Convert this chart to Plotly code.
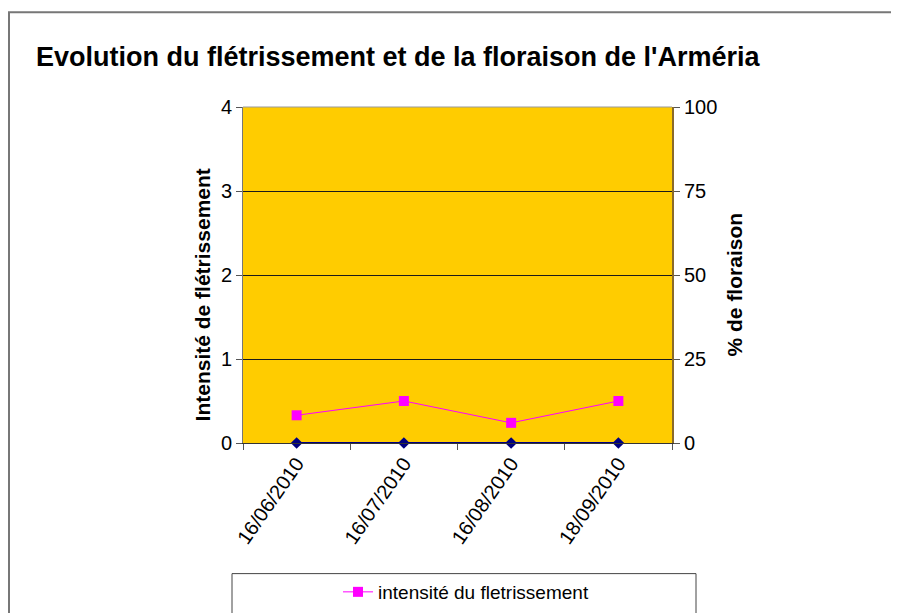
import plotly.graph_objects as go

dates = ["16/06/2010", "16/07/2010", "16/08/2010", "18/09/2010"]
intensite = [0.33, 0.5, 0.24, 0.5]
floraison = [0, 0, 0, 0]
y_left_ticks = [0, 1, 2, 3, 4]
y_right_ticks = [0, 25, 50, 75, 100]

W, H = 899, 613
OFF = 8  # page body margin
L, R, T, B = 243 - OFF, 672 - OFF, 107 - OFF, 444 - OFF
pw, ph = R - L, B - T

def px(x):
    return (x - OFF - L) / pw

def py(y):
    return (B - (y - OFF)) / ph

FONT = "Liberation Sans, Arial, sans-serif"

fig = go.Figure()
fig.add_trace(go.Scatter(
    x=dates, y=floraison, yaxis="y2", mode="lines+markers",
    line=dict(color="#000080", width=2),
    marker=dict(symbol="diamond", size=9, color="#000080"),
    showlegend=False, cliponaxis=False,
))
fig.add_trace(go.Scatter(
    x=dates, y=intensite, mode="lines+markers",
    name="intensité du fletrissement",
    line=dict(color="#FF00FF", width=1),
    marker=dict(symbol="square", size=10, color="#FF00FF"),
))

fig.update_layout(
    width=W, height=H,
    margin=dict(l=L, r=W - R, t=T, b=H - B),
    paper_bgcolor="white", plot_bgcolor="#FFCC00",
    font=dict(family=FONT, size=16, color="black"),
    title=dict(text="<b>Evolution du flétrissement et de la floraison de l'Arméria</b>",
               x=(36 - OFF) / W, xref="container", xanchor="left",
               y=1 - (57 - OFF) / H, yref="container", yanchor="middle",
               font=dict(size=27, family=FONT, color="black")),
    xaxis=dict(type="category", tickangle=-55, tickson="boundaries",
               ticks="outside", ticklen=6, tickcolor="#555",
               showline=True, linecolor="#333", linewidth=1,
               showgrid=False, tickfont=dict(size=20), range=[-0.5, 3.5]),
    yaxis=dict(range=[0, 4], tickvals=y_left_ticks, ticks="outside", ticklen=6,
               tickcolor="#555", showline=True, linecolor="#777", mirror=False,
               showgrid=True, gridcolor="#1a1a1a", gridwidth=1, zeroline=False,
               tickfont=dict(size=20)),
    yaxis2=dict(range=[0, 100], tickvals=y_right_ticks, overlaying="y", side="right",
                ticks="outside", ticklen=6, tickcolor="#555", showline=True,
                linecolor="#8a6a2a", linewidth=2, showgrid=False, zeroline=False,
                tickfont=dict(size=20)),
    legend=dict(x=px(466), y=py(592), xanchor="center", yanchor="middle",
                bgcolor="rgba(0,0,0,0)", font=dict(size=19)),
    annotations=[
        dict(text="<b>Intensité de flétrissement</b>", textangle=-90,
             xref="paper", yref="paper", x=px(202), y=py(296),
             xanchor="center", yanchor="middle", showarrow=False,
             font=dict(size=21)),
        dict(text="<b>% de floraison</b>", textangle=-90,
             xref="paper", yref="paper", x=px(734), y=py(285),
             xanchor="center", yanchor="middle", showarrow=False,
             font=dict(size=21)),
    ],
    shapes=[
        dict(type="rect", xref="paper", yref="paper",
             x0=px(9), x1=px(915), y0=py(630), y1=py(12),
             line=dict(color="#777", width=2), layer="below"),
        dict(type="rect", xref="paper", yref="paper",
             x0=px(232), x1=px(696), y0=py(635), y1=py(575),
             line=dict(color="#444", width=1), layer="below"),
        dict(type="line", xref="paper", yref="paper",
             x0=0, x1=1, y0=1, y1=1, line=dict(color="#999", width=1)),
    ],
)

fig.write_html("out.html")
